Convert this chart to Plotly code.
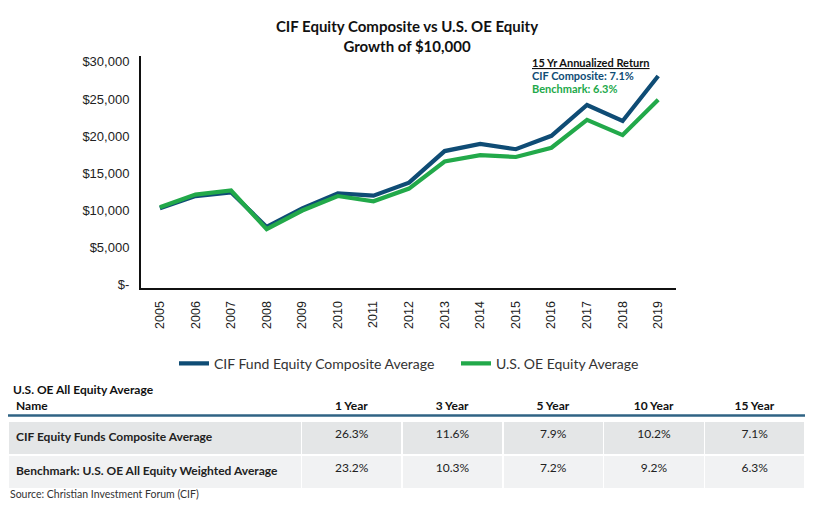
import plotly.graph_objects as go

# Growth of $10,000
years = ['2005', '2006', '2007', '2008', '2009', '2010', '2011', '2012',
         '2013', '2014', '2015', '2016', '2017', '2018', '2019']
cif_growth = [10300, 11950, 12450, 7800, 10300, 12300, 12000, 13750,
              18000, 18950, 18250, 20050, 24200, 22050, 28100]
bench_growth = [10450, 12150, 12700, 7500, 10000, 11950, 11250, 12950,
                16600, 17450, 17200, 18450, 22200, 20150, 24900]

ytick_vals = [0, 5000, 10000, 15000, 20000, 25000, 30000]
ytick_text = ['$-', '$5,000', '$10,000', '$15,000', '$20,000', '$25,000', '$30,000']

# Table of trailing returns
periods = ['1 Year', '3 Year', '5 Year', '10 Year', '15 Year']
row_names = ['CIF Equity Funds Composite Average',
             'Benchmark: U.S. OE All Equity Weighted Average']
cif_returns = [26.3, 11.6, 7.9, 10.2, 7.1]
bench_returns = [23.2, 10.3, 7.2, 9.2, 6.3]

BLUE = '#0f4c75'
GREEN = '#22a94a'

# the page body has an 8px margin, so the figure is drawn from (8, 8)
OX, OY = 8, 8
W, H = 815 - OX, 510 - OY


def px(x):
    return max(0, (x - OX) / W)


def py(y):
    return 1 - (y - OY) / H


fig = go.Figure()

fig.add_trace(go.Scatter(x=years, y=cif_growth, mode='lines',
                         name='CIF Fund Equity Composite Average',
                         line=dict(color=BLUE, width=4.2)))
fig.add_trace(go.Scatter(x=years, y=bench_growth, mode='lines',
                         name='U.S. OE Equity Average',
                         line=dict(color=GREEN, width=4.2)))

# table
header_vals = ['<b>Name</b>'] + ['<b>%s</b>' % p for p in periods]
cell_vals = [['<b>%s</b>' % n for n in row_names]] + \
    [['%.1f%%' % c, '%.1f%%' % b] for c, b in zip(cif_returns, bench_returns)]

fig.add_trace(go.Table(
    domain=dict(x=[0, px(805)], y=[0, py(393)]),
    columnwidth=[294, 101, 101, 101, 101, 101],
    header=dict(values=header_vals, height=26,
                align=['left'] + ['center'] * 5,
                fill_color='white', line=dict(width=0, color='white'),
                font=dict(family='Lato', size=12, color='#111')),
    cells=dict(values=cell_vals, height=33.5,
               align=['left'] + ['center'] * 5,
               fill_color=[['#e4e6e7', '#f1f2f3']] * 6,
               line=dict(color='white', width=1.5),
               font=dict(family='Lato', size=12, color='#222')),
))

fig.update_layout(
    width=W, height=H,
    margin=dict(l=0, r=0, t=0, b=0),
    paper_bgcolor='white', plot_bgcolor='white',
    font=dict(family='Lato', color='#222'),
    title=dict(text='<b>CIF Equity Composite vs U.S. OE Equity<br>Growth of $10,000</b>',
               x=px(407), xanchor='center', y=py(32), yanchor='middle',
               font=dict(family='Lato', size=15, color='#111')),
    xaxis=dict(type='category', domain=[px(141), px(676)], range=[-0.53, 14.5],
               showline=True, linecolor='#111', linewidth=2,
               showgrid=False, zeroline=False, ticks='', tickangle=-90,
               ticklabelstandoff=6,
               tickfont=dict(family='Liberation Sans', size=12.5, color='#222')),
    yaxis=dict(domain=[py(289.5), py(55)], range=[-440, 30730],
               tickvals=ytick_vals, ticktext=ytick_text,
               showline=True, linecolor='#111', linewidth=2,
               showgrid=False, zeroline=False, ticks='',
               ticklabelstandoff=7,
               tickfont=dict(family='Liberation Sans', size=13, color='#222')),
    legend=dict(orientation='h', x=px(174), xanchor='left', y=py(366), yanchor='middle',
                entrywidth=237, entrywidthmode='pixels',
                font=dict(family='Lato', size=14, color='#333'),
                bgcolor='rgba(0,0,0,0)'),
    showlegend=True,
)

# header underline of the table
fig.add_shape(type='line', xref='paper', yref='paper',
              x0=0, x1=px(805), y0=py(418.5), y1=py(418.5),
              line=dict(color='#2f6384', width=2.5))

fig.add_annotation(xref='paper', yref='paper', x=px(11), y=py(392),
                   xanchor='left', yanchor='middle', showarrow=False,
                   text='<b>U.S. OE All Equity Average</b>',
                   font=dict(family='Lato', size=12, color='#111'))

fig.add_annotation(xref='paper', yref='paper', x=px(530), y=py(61),
                   xanchor='left', yanchor='middle', showarrow=False,
                   text='<b><u>15 Yr Annualized Return</u></b>',
                   font=dict(family='Lato', size=11, color='#111'))
fig.add_annotation(xref='paper', yref='paper', x=px(530), y=py(74),
                   xanchor='left', yanchor='middle', showarrow=False,
                   text='<b>CIF Composite: %.1f%%</b>' % cif_returns[-1],
                   font=dict(family='Lato', size=11, color=BLUE))
fig.add_annotation(xref='paper', yref='paper', x=px(530), y=py(87),
                   xanchor='left', yanchor='middle', showarrow=False,
                   text='<b>Benchmark: %.1f%%</b>' % bench_returns[-1],
                   font=dict(family='Lato', size=11, color=GREEN))

fig.add_annotation(xref='paper', yref='paper', x=0, y=py(498),
                   xanchor='left', yanchor='middle', showarrow=False,
                   text='Source: Christian Investment Forum (CIF)',
                   font=dict(family='Lato', size=10.5, color='#333'))

fig.write_html('out.html')
